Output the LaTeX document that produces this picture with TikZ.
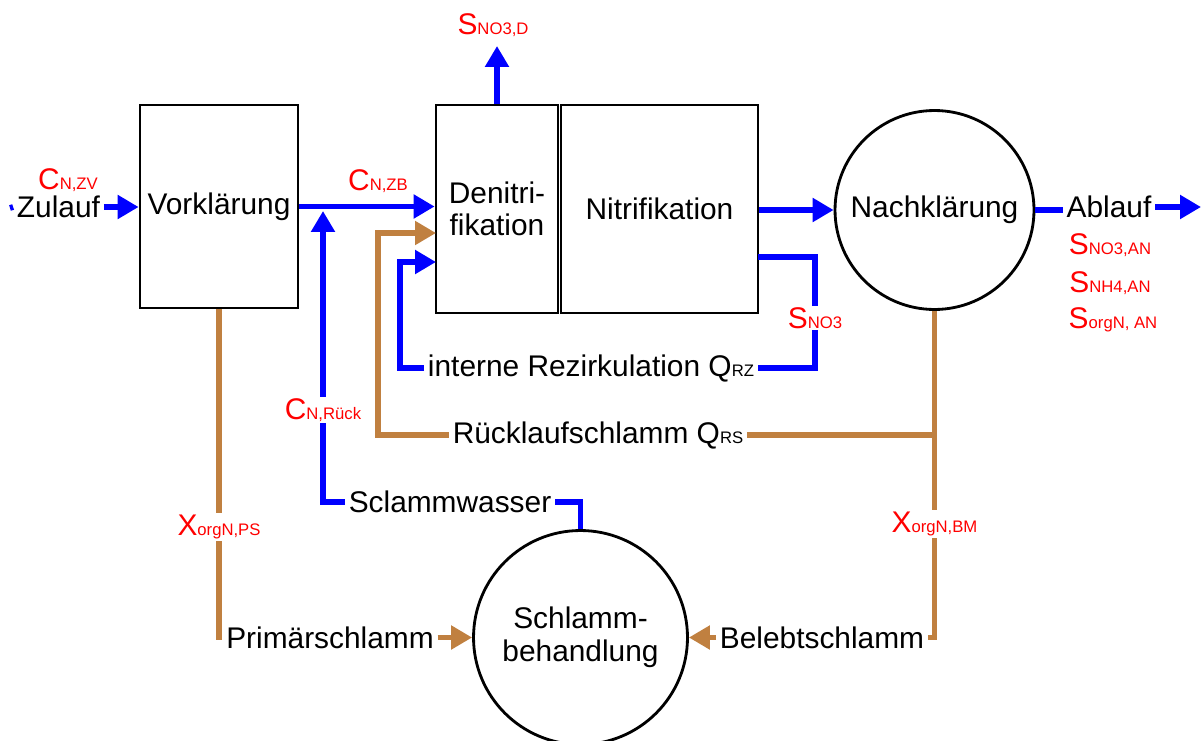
\documentclass[tikz,border=0pt]{standalone}
\usepackage{fontspec}
\setmainfont{Liberation Sans}
\usetikzlibrary{arrows.meta}

\definecolor{wasserblau}{RGB}{0,0,255}
\definecolor{schlammbraun}{RGB}{192,128,64}

% Groesse mit kleinem Index, z.B. \konz{C}{N,ZV}
\newcommand{\konz}[2]{#1{\fontsize{9.5}{11}\selectfont #2}}

\tikzset{
  becken/.style={draw=black, line width=1.6pt, rectangle, align=center},
  klaerer/.style={draw=black, line width=1.6pt, circle, align=center},
  strom/.style={inner sep=2pt},
  messwert/.style={text=red, fill=white, inner sep=1pt},
  blau/.style={draw=wasserblau, line width=3.3pt},
  braun/.style={draw=schlammbraun, line width=2.9pt},
  pfeil/.style={-{Triangle[length=0.42cm, width=0.46cm]}}
}

\begin{document}
\begin{tikzpicture}[x=0.02cm, y=-0.02cm,
    every node/.style={font=\fontsize{17}{18.5}\selectfont}]

  \useasboundingbox (0,0) rectangle (1202,740);

  % Becken und Klaerer
  \node[becken, minimum width=3.16cm, minimum height=4.06cm] (vor) at (219,206.5) {Vorklärung};
  \node[becken, minimum width=2.44cm, minimum height=4.16cm] (deni) at (497,209) {Denitri-\\fikation};
  \node[becken, minimum width=3.94cm, minimum height=4.16cm] (nitri) at (659.5,209) {Nitrifikation};
  \node[klaerer, minimum size=3.98cm] (nach) at (934.5,210) {Nachklärung};
  \node[klaerer, minimum size=4.28cm] (schlamm) at (580.5,637.5) {Schlamm-\\behandlung};

  % Texte an den Leitungen
  \node[strom] (zulauf) at (58.5,207) {Zulauf};
  \node[strom] (ablauf) at (1109,207) {Ablauf};
  \node[strom] (intern) at (591,368) {interne Rezirkulation \konz{Q}{RZ}};
  \node[strom] (rs) at (598,435) {Rücklaufschlamm \konz{Q}{RS}};
  \node[strom] (wasser) at (450,502) {Sclammwasser};
  \node[strom] (primaer) at (330,637.5) {Primärschlamm};
  \node[strom] (belebt) at (822,637.5) {Belebtschlamm};

  % freie Leitungsenden
  \coordinate (zustart) at (10,208);
  \coordinate (aus) at (1201,207);
  \coordinate (dn) at (497,46);
  \coordinate (irab) at (758,257);
  \coordinate (ein-rs) at (436,233);
  \coordinate (ein-ir) at (436,262);
  \coordinate (ein-rueck) at (323,211);

  % Wasserweg
  \draw[blau] (zustart) -- (zulauf.west);
  \draw[blau, pfeil] (zulauf.east) -- (zulauf.east -| vor.west);
  \draw[blau, pfeil] (vor.east) -- (vor.east -| deni.west);
  \draw[blau, pfeil] (deni.north) -- (dn);
  \draw[blau, pfeil] (nitri.east |- nach.west) -- (nach.west);
  \draw[blau] (nach.east) -- (nach.east -| ablauf.west);
  \draw[blau, pfeil] (ablauf.east) -- (aus);

  % interne Rezirkulation
  \draw[blau] (irab) -| (815,368) -- (intern.east);
  \draw[blau, pfeil] (intern.west) -| (400,262) -- (ein-ir);

  % Schlammwasser zurueck
  \draw[blau] (schlamm.north) |- (wasser.east);
  \draw[blau, pfeil] (wasser.west) -| (ein-rueck);

  % Schlammwege
  \draw[braun] (nach.south) |- (belebt.east);
  \draw[braun, pfeil] (belebt.west) -- (schlamm.east);
  \draw[braun] (nach.south |- rs.east) -- (rs.east);
  \draw[braun, pfeil] (rs.west) -| (378,233) -- (ein-rs);
  \draw[braun] (vor.south) |- (primaer.west);
  \draw[braun, pfeil] (primaer.east) -- (schlamm.west);

  % Konzentrationen
  \node[messwert] (czv) at (68,180) {\konz{C}{N,ZV}};
  \node[messwert] (czb) at (378,181) {\konz{C}{N,ZB}};
  \node[messwert] (snod) at (493,25) {\konz{S}{NO3,D}};
  \node[messwert] (sno) at (815,318) {\konz{S}{NO3}};
  \node[messwert] (crueck) at (323,410) {\konz{C}{N,Rück}};
  \node[messwert] (xps) at (219,527) {\konz{X}{orgN,PS}};
  \node[messwert] (xbm) at (934.5,524) {\konz{X}{orgN,BM}};
  \node[messwert] (snoan) at (1110,245) {\konz{S}{NO3,AN}};
  \node[messwert] (snhan) at (1110,283) {\konz{S}{NH4,AN}};
  \node[messwert] (sorgan) at (1113,320) {\konz{S}{orgN, AN}};

\end{tikzpicture}
\end{document}
